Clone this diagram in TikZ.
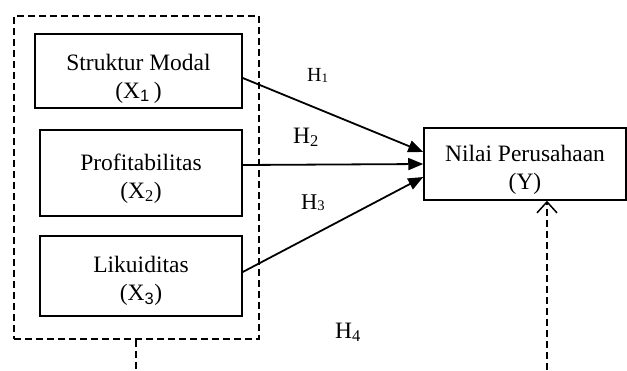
\documentclass[tikz,border=0pt]{standalone}
\usepackage{fontspec}
\setmainfont{Liberation Serif}
\setsansfont{Liberation Sans}
\usetikzlibrary{arrows.meta}
\newcommand\lowsub[1]{\raisebox{-1.5pt}{\scalebox{0.65}{#1}}}
\newcommand\topstrut[1]{\rule{0pt}{#1}}
\begin{document}
\begin{tikzpicture}[x=1pt,y=-1pt,
  varbox/.style={draw, line width=1.5pt, align=center, inner sep=0pt,
     font=\fontsize{23.5}{28}\selectfont},
  grouping/.style={draw, line width=1.5pt, dash pattern=on 7pt off 4pt},
  hyparrow/.style={line width=1.8pt, -{Triangle[length=15pt,width=12pt]}},
  hyplabel/.style={inner sep=0pt, anchor=base west}]
\useasboundingbox (0,0) rectangle (627,370);
% dashed grouping box
\node[grouping, minimum width=245pt, minimum height=323pt, anchor=north west] (grp) at (13,15) {};
% variable boxes
\node[varbox, minimum width=207pt, minimum height=74pt] (b1) at (138.5,71) {\topstrut{31pt}Struktur Modal\\(X\textsubscript{\sffamily 1}\,)};
\node[varbox, minimum width=202pt, minimum height=86pt] (b2) at (141,173) {\topstrut{27pt}Profitabilitas\\(X\textsubscript{2})};
\node[varbox, minimum width=202pt, minimum height=80pt] (b3) at (141,276) {\topstrut{26pt}Likuiditas\\(X\textsubscript{\sffamily 3})};
\node[varbox, minimum width=202pt, minimum height=72pt] (y) at (525,164) {\topstrut{27pt}Nilai Perusahaan\\(Y)};
% hypothesis arrows
\draw[hyparrow] ([yshift=-7pt]b1.east) -- ([yshift=12pt]y.west);
\draw[hyparrow] ([yshift=8pt]b2.east) -- (y.west);
\draw[hyparrow] ([yshift=4pt]b3.east) -- ([yshift=-13pt]y.west);
% H4 dashed path
\coordinate (d1) at (136,370);
\coordinate (d2) at (547,370);
\draw[grouping] (grp.south -| d1) -- (d1);
\draw[grouping, -{Straight Barb[length=11pt,width=20pt,line width=1.5pt]}] (d2) -- (d2 |- y.south);
% labels
\node[hyplabel, font=\fontsize{20}{20}\selectfont] (h1) at (307,81) {H\lowsub{1}};
\node[hyplabel, font=\fontsize{23.5}{24}\selectfont] (h2) at (293,143) {H\textsubscript{2}};
\node[hyplabel, font=\fontsize{22.5}{23}\selectfont] (h3) at (301,209) {H\lowsub{3}};
\node[hyplabel, font=\fontsize{23.5}{24}\selectfont] (h4) at (335,338) {H\textsubscript{4}};
\end{tikzpicture}
\end{document}
